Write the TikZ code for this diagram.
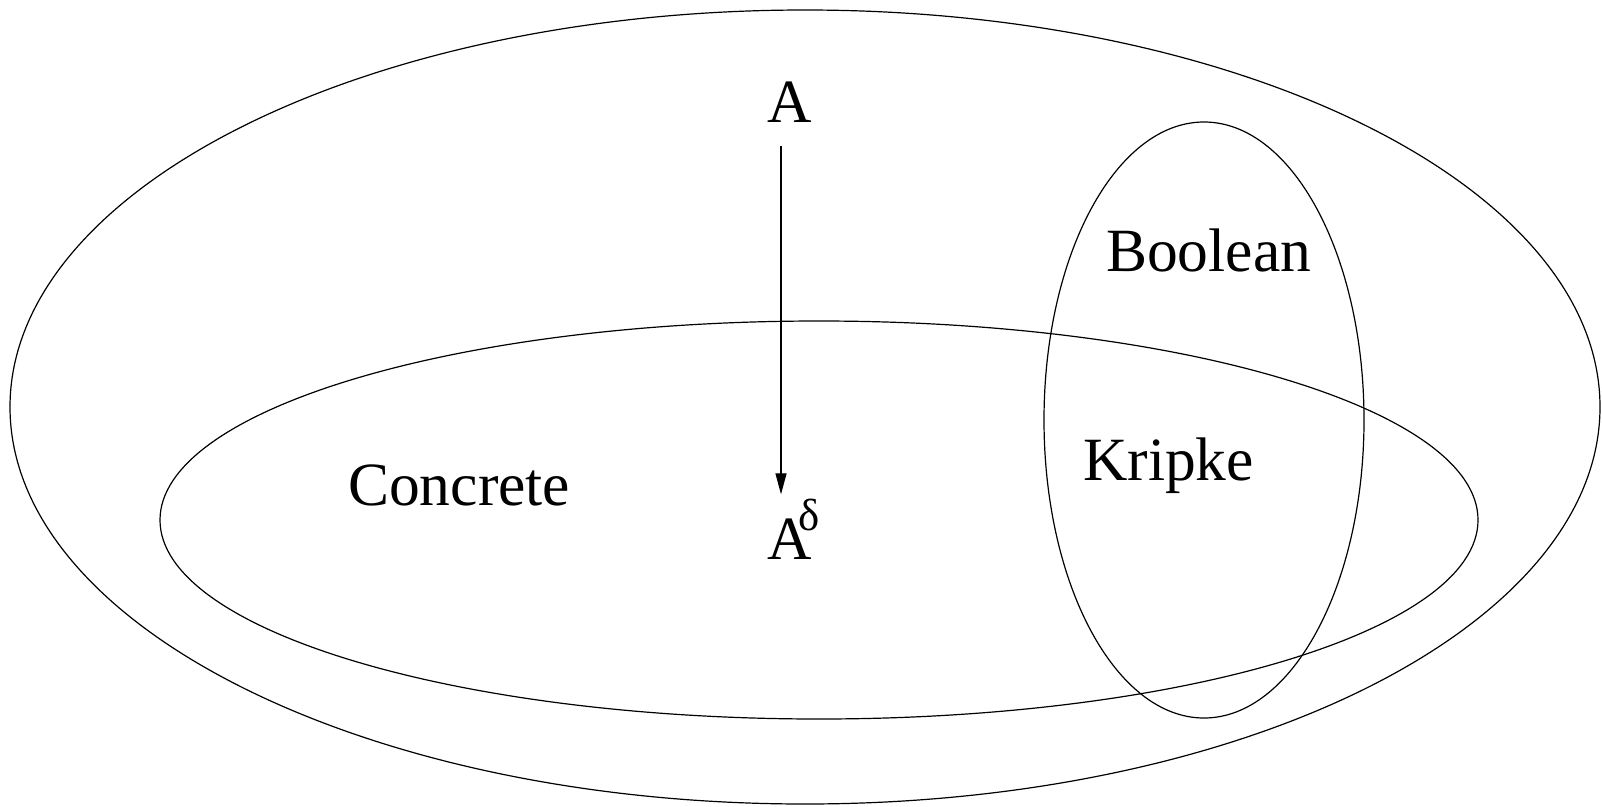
\documentclass[tikz,border=0pt]{standalone}
\usepackage{fontspec}
\setmainfont{Liberation Serif}
\usetikzlibrary{arrows.meta,positioning}

\begin{document}
\begin{tikzpicture}[x=1pt, y=-1pt,
  label/.style={inner sep=0pt, anchor=base west, font=\fontsize{61.5}{70}\selectfont},
  region/.style={line width=1.2pt},
  arrow/.style={-{Triangle[length=21pt, width=11pt]}, line width=1.2pt}
]
  \useasboundingbox (0,0) rectangle (1602,806);
  % the three classes
  \draw[region] (805,407) ellipse [x radius=795pt, y radius=397pt];
  \draw[region] (819,520) ellipse [x radius=659pt, y radius=199pt];
  \draw[region] (1204,420) ellipse [x radius=160pt, y radius=298pt];
  % labels
  \node[label, anchor=base] (A) at (790,122) {A};
  \node[label] (Ad) at (767,559) {A\raisebox{29pt}{\fontsize{45}{50}\selectfont\kern-13pt δ}};
  \node[label] (concrete) at (348,505) {Concrete};
  \node[label] (boolean) at (1106,271) {Boolean};
  \node[label] (kripke) at (1083,480) {Kripke};
  \draw[arrow, shorten <=24pt, shorten >=4pt] ([xshift=-9pt]A.south) -- ([xshift=-9pt]A.south |- Ad.north);
\end{tikzpicture}
\end{document}
